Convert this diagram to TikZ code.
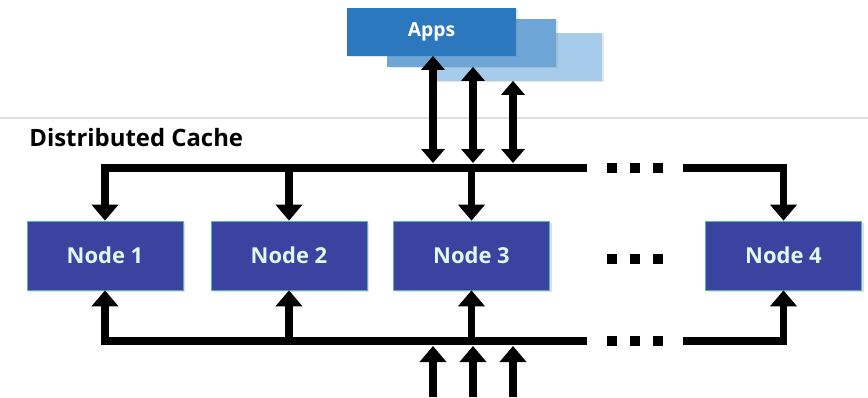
\documentclass[tikz,border=0pt]{standalone}
\usepackage{fontspec}
\setsansfont{Open Sans}
\usetikzlibrary{arrows.meta}
\usetikzlibrary{shadows}
\definecolor{appsA}{HTML}{2B78BE}
\definecolor{appsB}{HTML}{6EA6D8}
\definecolor{appsC}{HTML}{A7CBEA}
\definecolor{nodeblue}{HTML}{3A43A0}
\definecolor{nodetext}{HTML}{DDF8EC}
\definecolor{nodeedge}{HTML}{56B5B0}

\begin{document}
\begin{tikzpicture}[x=0.02cm, y=-0.02cm,
    app/.style={rectangle, minimum width=3.38cm, minimum height=0.96cm, inner sep=0pt,
        drop shadow={opacity=0.2, shadow xshift=1pt, shadow yshift=-1pt}},
    cache/.style={rectangle, fill=nodeblue, draw=nodeedge, line width=0.4pt,
        minimum width=3.12cm, minimum height=1.38cm, text=nodetext,
        font=\sffamily\bfseries\fontsize{12.5}{14}\selectfont,
        drop shadow={opacity=0.25, shadow xshift=1.2pt, shadow yshift=-1.2pt}},
    bus/.style={line width=4.5pt, line join=miter},
    arr/.style={bus, -{Triangle[width=0.52cm, length=0.32cm]}},
    dbl/.style={line width=4pt, {Triangle[width=0.46cm, length=0.28cm]}-{Triangle[width=0.46cm, length=0.28cm]}},
    dotsq/.style={rectangle, fill=black, minimum size=0.2cm, inner sep=0pt}]
    \useasboundingbox (0,0) rectangle (868,397);

    \node[app, fill=appsC] (a3) at (517.5,56.5) {};
    \node[app, fill=appsB] (a2) at (471.5,42.5) {};
    \node[app, fill=appsA, text=white, font=\sffamily\bfseries\fontsize{11}{13}\selectfont] (a1) at (431.5,31.5) {Apps};

    \draw[gray!25, line width=0.6pt] (0,118) -- (868,118);
    \node[anchor=west, font=\sffamily\bfseries\fontsize{13.6}{15}\selectfont, inner sep=0pt] (title) at (29,138) {Distributed Cache};

    \node[cache] (n1) at (105,255.5) {Node 1};
    \node[cache] (n2) at (289,255.5) {Node 2};
    \node[cache] (n3) at (471.5,255.5) {Node 3};
    \node[cache] (n4) at (783.5,255.5) {Node 4};

    \coordinate (tl) at (105,168);
    \coordinate (tr) at (587,168);
    \coordinate (tr2) at (683,168);
    \coordinate (bl) at (105,341);
    \coordinate (br) at (587,341);
    \coordinate (br2) at (683,341);

    \draw[arr] (tr) -- (tl) -- (n1.north);
    \draw[arr] (n2.north |- tl) -- (n2.north);
    \draw[arr] (n3.north |- tl) -- (n3.north);
    \draw[arr] (tr2) -| (n4.north);

    \draw[arr] (br) -- (bl) -- (n1.south);
    \draw[arr] (n2.south |- bl) -- (n2.south);
    \draw[arr] (n3.south |- bl) -- (n3.south);
    \draw[arr] (br2) -| (n4.south);

    \foreach \x in {612,635,658} {
        \node[dotsq] at (\x,168) {};
        \node[dotsq] at (\x,259) {};
        \node[dotsq] at (\x,341) {};
    }

    \coordinate (u1) at (433,163);
    \coordinate (u2) at (473,163);
    \coordinate (u3) at (513,163);
    \draw[dbl] (a1.south -| u1) -- (u1);
    \draw[dbl] (a2.south -| u2) -- (u2);
    \draw[dbl] (a3.south -| u3) -- (u3);

    \coordinate (d1) at (433,346);
    \coordinate (d2) at (473,346);
    \coordinate (d3) at (513,346);
    \draw[arr] (d1 |- 0,397) -- (d1);
    \draw[arr] (d2 |- 0,397) -- (d2);
    \draw[arr] (d3 |- 0,397) -- (d3);
\end{tikzpicture}
\end{document}
